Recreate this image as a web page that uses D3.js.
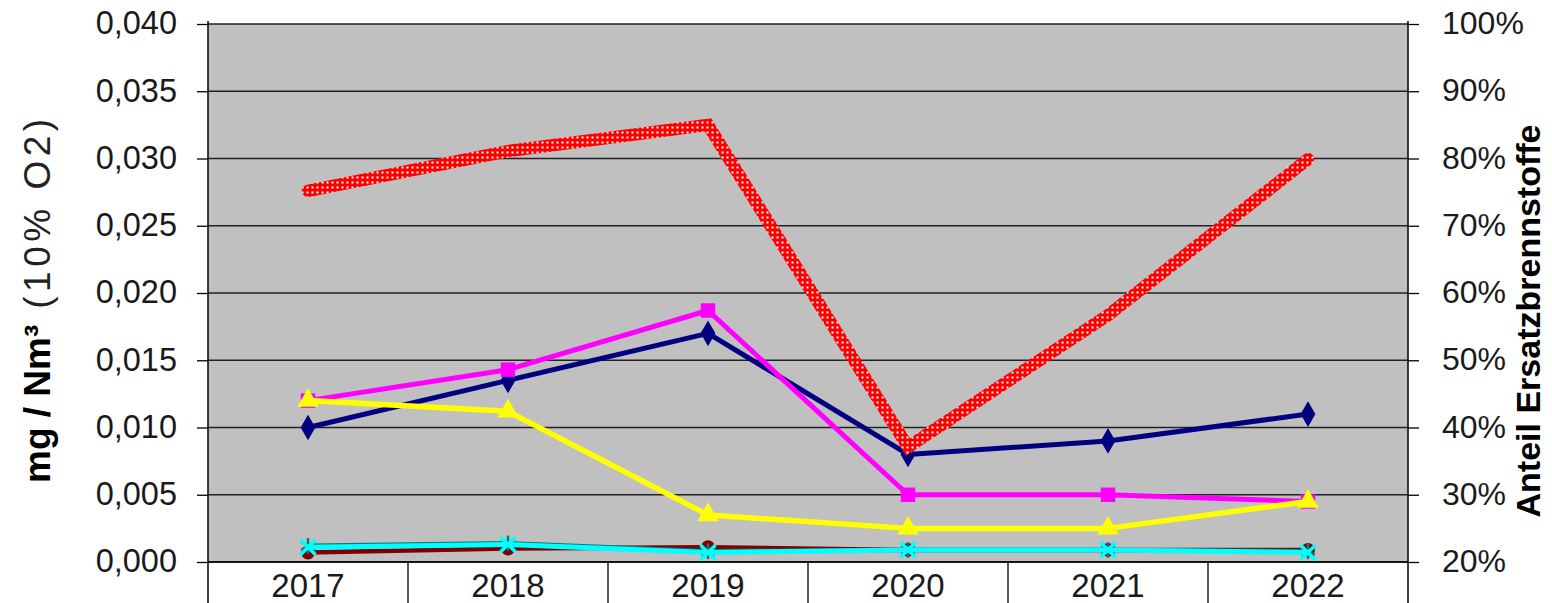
<!DOCTYPE html>
<html>
<head>
<meta charset="utf-8">
<script src="https://cdn.jsdelivr.net/npm/d3@7"></script>
<style>
  html, body { margin: 0; padding: 0; background: #fff; }
  svg { display: block; font-family: "Liberation Sans", Arial, sans-serif; }
</style>
</head>
<body>
<svg id="chart" width="1552" height="603"></svg>
<script>
// Years on the category axis
const years = ["2017", "2018", "2019", "2020", "2021", "2022"];

// Emission series, mg/Nm³ (10% O2), left axis
const seriesNavy    = [0.0100, 0.0135, 0.0170, 0.0080, 0.0090, 0.0110];
const seriesMagenta = [0.0120, 0.0143, 0.0187, 0.0050, 0.0050, 0.0045];
const seriesYellow  = [0.0120, 0.0112, 0.0035, 0.0025, 0.0025, 0.0045];
const seriesDarkRed = [0.0007, 0.0010, 0.0011, 0.0009, 0.0009, 0.0009];
const seriesTeal    = [0.0012, 0.0014, 0.0008, 0.0009, 0.0009, 0.0008];
const seriesCyan    = [0.0011, 0.0013, 0.0007, 0.0009, 0.0009, 0.0007];

// Share of substitute fuels, right axis
const shareFuel = [0.752, 0.811, 0.850, 0.371, 0.567, 0.799];

// Axis ticks
const leftTicks  = [0, 0.005, 0.010, 0.015, 0.020, 0.025, 0.030, 0.035, 0.040];
const rightTicks = [0.2, 0.3, 0.4, 0.5, 0.6, 0.7, 0.8, 0.9, 1.0];

const svg = d3.select("#chart");
const plot = { left: 208, right: 1408, top: 24, bottom: 562 };
const FONT = "'Liberation Sans', Arial, sans-serif";

const x = d3.scaleBand().domain(years).range([plot.left, plot.right]).padding(0);
const yL = d3.scaleLinear().domain([0, 0.040]).range([plot.bottom, plot.top]);
const yR = d3.scaleLinear().domain([0.2, 1.0]).range([plot.bottom, plot.top]);
const cx = d => x(d) + x.bandwidth() / 2;

// Dotted texture for the fuel-share line
const defs = svg.append("defs");
const pat = defs.append("pattern")
  .attr("id", "dots").attr("patternUnits", "userSpaceOnUse")
  .attr("width", 5).attr("height", 5);
pat.append("rect").attr("width", 5).attr("height", 5).attr("fill", "#ff0000");
pat.append("rect").attr("x", 1.5).attr("y", 1.5).attr("width", 2).attr("height", 2).attr("fill", "#ffffff");

// Plot background
svg.append("rect")
  .attr("x", plot.left).attr("y", plot.top)
  .attr("width", plot.right - plot.left).attr("height", plot.bottom - plot.top)
  .attr("fill", "#c0c0c0");

// Horizontal gridlines
svg.append("g").selectAll("line").data(leftTicks).join("line")
  .attr("x1", plot.left).attr("x2", plot.right)
  .attr("y1", d => yL(d)).attr("y2", d => yL(d))
  .attr("stroke", "#222").attr("stroke-width", 1.3);

// Left axis
const fmtL = d => d3.format(".3f")(d).replace(".", ",");
const gL = svg.append("g").attr("transform", `translate(${plot.left},0)`)
  .call(d3.axisLeft(yL).tickValues(leftTicks).tickFormat(fmtL).tickSize(11).tickPadding(20));
gL.select(".domain").remove();
gL.append("line").attr("x1", 0).attr("x2", 0).attr("y1", plot.top - 3).attr("y2", 603)
  .attr("stroke", "#000").attr("stroke-width", 1.5);
gL.selectAll(".tick line").attr("stroke", "#000").attr("stroke-width", 1.3);
gL.selectAll(".tick text").attr("font-size", 32.5).attr("fill", "#1a1a1a")
  .attr("font-family", FONT).attr("dy", "0.3em");

// Right axis
const fmtR = d => Math.round(d * 100) + "%";
const gR = svg.append("g").attr("transform", `translate(${plot.right},0)`)
  .call(d3.axisRight(yR).tickValues(rightTicks).tickFormat(fmtR).tickSize(11).tickPadding(23));
gR.select(".domain").remove();
gR.append("line").attr("x1", 0).attr("x2", 0).attr("y1", plot.top - 3).attr("y2", 603)
  .attr("stroke", "#000").attr("stroke-width", 1.5);
gR.selectAll(".tick line").attr("stroke", "#000").attr("stroke-width", 1.3);
gR.selectAll(".tick text").attr("font-size", 32).attr("fill", "#1a1a1a")
  .attr("font-family", FONT).attr("dy", "0.3em");

// Category axis: separators between years, extending below the plot
const gX = svg.append("g");
gX.append("line").attr("x1", plot.left).attr("x2", plot.right)
  .attr("y1", plot.bottom).attr("y2", plot.bottom).attr("stroke", "#000").attr("stroke-width", 1.5);
gX.selectAll("line.sep").data(years.slice(1)).join("line").attr("class", "sep")
  .attr("x1", d => x(d)).attr("x2", d => x(d))
  .attr("y1", plot.bottom).attr("y2", 603)
  .attr("stroke", "#000").attr("stroke-width", 1.3);
gX.selectAll("text").data(years).join("text")
  .attr("x", d => cx(d)).attr("y", 597)
  .attr("text-anchor", "middle").attr("font-size", 33).attr("fill", "#1a1a1a")
  .text(d => d);

// Axis titles
const tL = svg.append("text")
  .attr("transform", `translate(50,483) rotate(-90)`)
  .attr("text-anchor", "start").attr("fill", "#000");
tL.append("tspan").attr("font-weight", "bold").attr("font-size", 37).text("mg / Nm³");
tL.append("tspan").attr("fill", "#222").attr("font-size", 37)
  .attr("dx", 16).attr("letter-spacing", 4.5).text("(10% O2)");

svg.append("text")
  .attr("transform", `translate(1540,321) rotate(-90)`)
  .attr("text-anchor", "middle").attr("font-size", 34).attr("font-weight", "bold").attr("fill", "#000")
  .text("Anteil Ersatzbrennstoffe");

// Line helpers
const lineL = d3.line().x((d, i) => cx(years[i])).y(d => yL(d));
const lineR = d3.line().x((d, i) => cx(years[i])).y(d => yR(d));

function drawSeries(values, color, width, marker, msize) {
  const g = svg.append("g");
  g.append("path").datum(values).attr("d", lineL)
    .attr("fill", "none").attr("stroke", color).attr("stroke-width", width)
    .attr("stroke-linejoin", "round");
  if (marker) {
    g.selectAll("path.m").data(values).join("path").attr("class", "m")
      .attr("transform", (d, i) => `translate(${cx(years[i])},${yL(d)})`)
      .attr("d", d3.symbol().type(marker).size(msize))
      .attr("fill", color);
  }
  return g;
}

// Low-level series near zero
drawSeries(seriesDarkRed, "#800000", 4.5, d3.symbolCircle, 150);
const teal = drawSeries(seriesTeal, "#008080", 4.5, null);
teal.selectAll("path.star").data(seriesTeal).join("path").attr("class", "star")
  .attr("transform", (d, i) => `translate(${cx(years[i])},${yL(d)})`)
  .attr("d", d3.symbol().type(d3.symbolAsterisk).size(170))
  .attr("fill", "none").attr("stroke", "#008080").attr("stroke-width", 2.5);
const cyan = drawSeries(seriesCyan, "#00ffff", 5, null);
cyan.selectAll("path.x").data(seriesCyan).join("path").attr("class", "x")
  .attr("transform", (d, i) => `translate(${cx(years[i])},${yL(d)})`)
  .attr("d", d3.symbol().type(d3.symbolX).size(150))
  .attr("fill", "none").attr("stroke", "#00ffff").attr("stroke-width", 3.5);

drawSeries(seriesNavy, "#000080", 5, d3.symbolDiamond, 190);
drawSeries(seriesMagenta, "#ff00ff", 5, d3.symbolSquare, 210);
drawSeries(seriesYellow, "#ffff00", 5.5, d3.symbolTriangle, 200);

// Fuel share on the right axis
svg.append("path").datum(shareFuel).attr("d", lineR)
  .attr("fill", "none").attr("stroke", "url(#dots)").attr("stroke-width", 12.5)
  .attr("stroke-linejoin", "miter").attr("stroke-linecap", "round");
</script>
</body>
</html>
